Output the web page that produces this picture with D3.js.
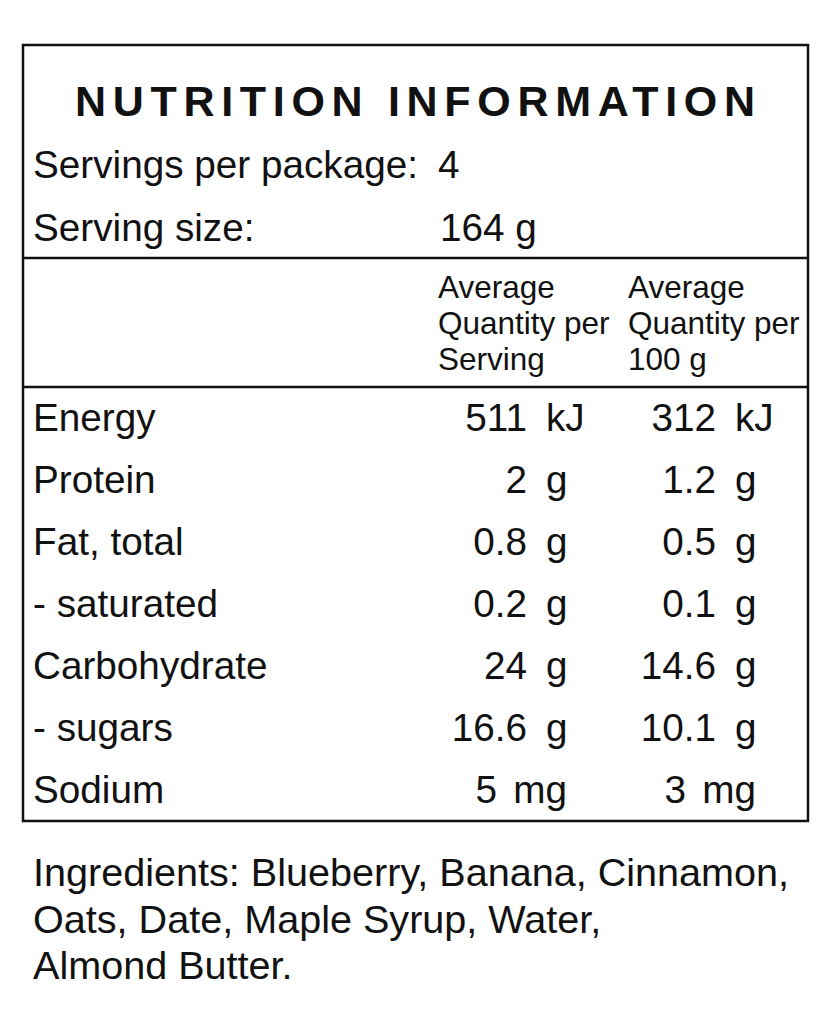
<!DOCTYPE html>
<html>
<head>
<meta charset="utf-8">
<script src="https://cdn.jsdelivr.net/npm/d3@7"></script>
<style>
  html, body { margin: 0; padding: 0; background: #fff; }
  svg text { font-family: "Liberation Sans", Arial, sans-serif; fill: #111; }
</style>
</head>
<body>
<div id="label"></div>
<script>
const title = "NUTRITION INFORMATION"
const servingsLabel = "Servings per package:"
const servingsValue = "4"
const sizeLabel = "Serving size:"
const sizeValue = "164 g"

const headPerServing = ["Average", "Quantity per", "Serving"]
const headPer100 = ["Average", "Quantity per", "100 g"]

const nutrients = ["Energy", "Protein", "Fat, total", "- saturated", "Carbohydrate", "- sugars", "Sodium"]
const perServing = ["511", "2", "0.8", "0.2", "24", "16.6", "5"]
const per100g = ["312", "1.2", "0.5", "0.1", "14.6", "10.1", "3"]
const units = ["kJ", "g", "g", "g", "g", "g", "mg"]

const ingredients = [
  "Ingredients: Blueberry, Banana, Cinnamon,",
  "Oats, Date, Maple Syrup, Water,",
  "Almond Butter.",
]

const width = 831
const height = 1024

const svg = d3.select("#label")
  .append("svg")
  .attr("width", width)
  .attr("height", height)
  .attr("viewBox", [0, 0, width, height])

// outer box
const box = { x: 23, y: 45, w: 785, h: 776 }
svg.append("rect")
  .attr("x", box.x)
  .attr("y", box.y)
  .attr("width", box.w)
  .attr("height", box.h)
  .attr("fill", "none")
  .attr("stroke", "#111")
  .attr("stroke-width", 2.5)

// divider lines
;[258, 387].forEach(y => {
  svg.append("line")
    .attr("x1", box.x).attr("x2", box.x + box.w)
    .attr("y1", y).attr("y2", y)
    .attr("stroke", "#111")
    .attr("stroke-width", 2.5)
})

// title, spread out like the printed label
svg.append("text")
  .text(title)
  .attr("x", 75)
  .attr("y", 116)
  .attr("textLength", 680)
  .attr("lengthAdjust", "spacing")
  .style("font-size", "43px")
  .style("font-weight", "bold")

const bodySize = "38.7px"
const valueX = 438

svg.append("text").text(servingsLabel).attr("x", 33).attr("y", 178).style("font-size", bodySize)
svg.append("text").text(servingsValue).attr("x", valueX).attr("y", 178).style("font-size", bodySize)
svg.append("text").text(sizeLabel).attr("x", 33).attr("y", 241).style("font-size", bodySize)
svg.append("text").text(sizeValue).attr("x", valueX + 2).attr("y", 241).style("font-size", bodySize)

// column headers
let headY = d3.scalePoint().domain(d3.range(3)).range([298, 370])
let heads = [
  { x: 438, lines: headPerServing },
  { x: 628, lines: headPer100 },
]
heads.forEach(h => {
  svg.append("g")
    .selectAll("text")
    .data(h.lines)
    .join("text")
    .attr("x", h.x)
    .attr("y", (d, i) => headY(i))
    .text(d => d)
    .style("font-size", "31.5px")
})

// nutrient rows
let rowY = d3.scalePoint().domain(nutrients).range([431, 803])
let rows = nutrients.map((n, i) => ({
  name: n,
  serving: perServing[i],
  hundred: per100g[i],
  unit: units[i],
}))

let rowG = svg.append("g")
  .selectAll("g")
  .data(rows)
  .join("g")
  .attr("transform", d => `translate(0,${rowY(d.name)})`)
  .style("font-size", bodySize)

rowG.append("text")
  .attr("x", 33)
  .text(d => d.name)

// unit column start; "mg" sits flush right with the "g" rows instead
let cols = [
  { key: "serving", unitX: 546 },
  { key: "hundred", unitX: 735 },
]
let gWidth = 21
cols.forEach(c => {
  rowG.append("text")
    .attr("x", d => d.unit === "mg" ? c.unitX + gWidth : c.unitX)
    .attr("text-anchor", d => d.unit === "mg" ? "end" : "start")
    .text(d => d.unit)
  rowG.append("text")
    .attr("x", d => d.unit === "mg" ? c.unitX - 49 : c.unitX - 19)
    .attr("text-anchor", "end")
    .text(d => d[c.key])
})

// ingredients below the box
let ingY = d3.scalePoint().domain(d3.range(ingredients.length)).range([886, 979])
svg.append("g")
  .selectAll("text")
  .data(ingredients)
  .join("text")
  .attr("x", 33)
  .attr("y", (d, i) => ingY(i))
  .text(d => d)
  .style("font-size", "39.6px")
</script>
</body>
</html>
